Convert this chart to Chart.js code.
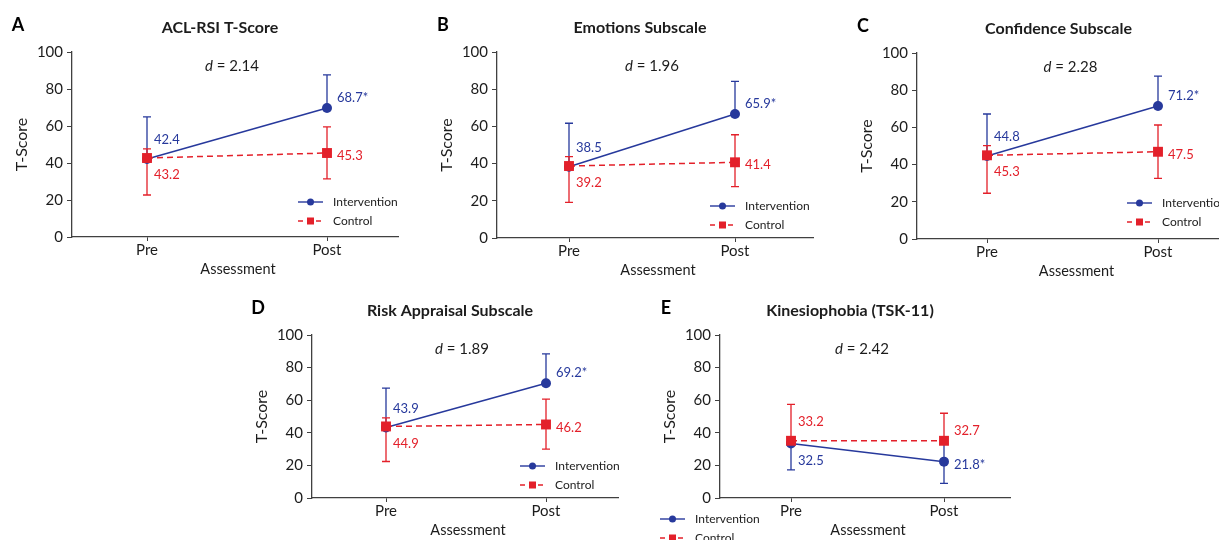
<!DOCTYPE html>
<html>
<head>
<meta charset="utf-8">
<script src="https://cdn.jsdelivr.net/npm/chart.js@4.4.1/dist/chart.umd.min.js"></script>
<style>
  html, body { margin: 0; padding: 0; background: #fff; }
  body { width: 1219px; height: 540px; position: relative; overflow: hidden; }
  canvas { position: absolute; }
</style>
</head>
<body>
<script>
// ==================== DATOS ====================
const fases = ['Pre', 'Post'];

const letras  = ['A', 'B', 'C', 'D', 'E'];
const titulos = ['ACL-RSI T-Score', 'Emotions Subscale', 'Confidence Subscale',
                 'Risk Appraisal Subscale', 'Kinesiophobia (TSK-11)'];
const efectoD = ['2.14', '1.96', '2.28', '1.89', '2.42'];

// medias (posición visual de los marcadores)
const intervencion = [[42.2, 69.7], [38.3, 66.7], [44.6, 71.5], [43.2, 70.4], [33.5, 22.3]];
const control      = [[42.7, 45.4], [38.7, 40.7], [45.0, 46.9], [43.9, 45.1], [35.1, 35.1]];

// extremos de las barras de error
const intErrBajo  = [[42.2, 69.7], [38.3, 66.7], [44.6, 71.5], [43.2, 70.4], [17.2, 9.0]];
const intErrAlto  = [[64.9, 87.6], [61.7, 84.2], [67.2, 87.6], [67.4, 88.4], [33.5, 35.1]];
const ctrlErrBajo = [[22.7, 31.4], [19.2, 27.6], [24.6, 32.6], [22.4, 30.0], [35.1, 35.1]];
const ctrlErrAlto = [[47.6, 59.5], [43.7, 55.5], [50.2, 61.3], [49.2, 60.6], [57.5, 52.0]];

// etiquetas de valor tal como aparecen
const intEtiquetas  = [['42.4', '68.7*'], ['38.5', '65.9*'], ['44.8', '71.2*'], ['43.9', '69.2*'], ['32.5', '21.8*']];
const ctrlEtiquetas = [['43.2', '45.3'], ['39.2', '41.4'], ['45.3', '47.5'], ['44.9', '46.2'], ['33.2', '32.7']];

const yTicks = [0, 20, 40, 60, 80, 100];

// ==================== LAYOUT (px de página) ====================
// l/r/t/b = área del gráfico, p0/p1 = posición de Pre/Post desde la izquierda
const paneles = [
  { l: 72,  r: 398,  t: 52,  b: 237, p0: 75, p1: 255, leg: { from: 'right', dx: -100, dy: -35 } },
  { l: 497, r: 813,  t: 52,  b: 238, p0: 72, p1: 238, leg: { from: 'right', dx: -103, dy: -32 } },
  { l: 917, r: 1230, t: 53,  b: 239, p0: 70, p1: 241, leg: { from: 'right', dx: -103, dy: -36 } },
  { l: 312, r: 618,  t: 335, b: 498, p0: 74, p1: 234, leg: { from: 'right', dx: -98,  dy: -32 } },
  { l: 720, r: 1010, t: 335, b: 498, p0: 71, p1: 224, leg: { from: 'left',  dx: -60,  dy: 21 } }
];

const AZUL = '#27399c';
const ROJO = '#e3202a';
const TEXTO = '#1c1c1c';
const EJE = '#404040';
const FUENTE = 'Lato, "Open Sans", sans-serif';

const PAD_IZQ = 75, PAD_SUP = 52, PAD_DER = 20, PAD_INF = 50;
const Y_W = 40, X_H = 20;

// ==================== PLUGINS ====================
const barrasError = {
  id: 'barrasError',
  beforeDatasetsDraw(chart) {
    const { ctx, scales: { x, y } } = chart;
    const k = chart.options.panelIndex;
    const series = [
      { bajo: intErrBajo[k], alto: intErrAlto[k], medias: intervencion[k], color: AZUL },
      { bajo: ctrlErrBajo[k], alto: ctrlErrAlto[k], medias: control[k], color: ROJO }
    ];
    ctx.save();
    ctx.lineWidth = 1.3;
    series.forEach(s => {
      ctx.strokeStyle = s.color;
      s.bajo.forEach((lo, i) => {
        const hi = s.alto[i];
        const px = x.getPixelForValue(i);
        const yLo = y.getPixelForValue(lo);
        const yHi = y.getPixelForValue(hi);
        ctx.beginPath();
        ctx.moveTo(px, yLo); ctx.lineTo(px, yHi);
        if (Math.abs(hi - s.medias[i]) > 0.5) { ctx.moveTo(px - 4, yHi); ctx.lineTo(px + 4, yHi); }
        if (Math.abs(lo - s.medias[i]) > 0.5) { ctx.moveTo(px - 4, yLo); ctx.lineTo(px + 4, yLo); }
        ctx.stroke();
      });
    });
    ctx.restore();
  }
};

const decoracion = {
  id: 'decoracion',
  afterDatasetsDraw(chart) {
    const { ctx, chartArea: a, scales: { x, y } } = chart;
    const k = chart.options.panelIndex;
    const p = paneles[k];
    const cx = (a.left + a.right) / 2;

    ctx.save();
    ctx.textBaseline = 'middle';

    // letra del panel
    ctx.fillStyle = '#000';
    ctx.font = 'bold 18px ' + FUENTE;
    ctx.textAlign = 'center';
    ctx.fillText(letras[k], a.left - 54, a.top - 27);

    // título
    ctx.fillStyle = TEXTO;
    ctx.font = 'bold 16px ' + FUENTE;
    ctx.fillText(titulos[k], cx - 15, a.top - 24);

    // d de Cohen
    const resto = ' = ' + efectoD[k];
    ctx.font = '15px ' + FUENTE;
    const wResto = ctx.measureText(resto).width;
    ctx.font = 'italic 15px ' + FUENTE;
    const wD = ctx.measureText('d').width;
    const x0 = cx - 3 - (wD + wResto) / 2;
    ctx.textAlign = 'left';
    ctx.fillText('d', x0, a.top + 14);
    ctx.font = '15px ' + FUENTE;
    ctx.fillText(resto, x0 + wD, a.top + 14);

    // títulos de ejes
    ctx.textAlign = 'center';
    ctx.font = '14.5px ' + FUENTE;
    ctx.fillText('Assessment', cx + 3, a.bottom + 32);
    ctx.save();
    ctx.translate(a.left - 50, (a.top + a.bottom) / 2);
    ctx.rotate(-Math.PI / 2);
    ctx.font = '16px ' + FUENTE;
    ctx.fillText('T-Score', 0, 0);
    ctx.restore();

    // etiquetas de valor: la serie que queda más alta lleva sus etiquetas arriba
    const sumaInt = intervencion[k].reduce((s, v) => s + v, 0);
    const sumaCtrl = control[k].reduce((s, v) => s + v, 0);
    const intArriba = sumaInt >= sumaCtrl;
    ctx.font = '13px ' + FUENTE;
    ctx.textAlign = 'left';
    fases.forEach((f, i) => {
      const px = x.getPixelForValue(i);
      const yi = y.getPixelForValue(intervencion[k][i]);
      const yc = y.getPixelForValue(control[k][i]);
      const dx = i === 0 ? 7 : 10;
      const dArr = i === 0 ? -19 : -10;
      const dAb = i === 0 ? 17 : 3;
      ctx.fillStyle = AZUL;
      ctx.fillText(intEtiquetas[k][i], px + dx, yi + (intArriba ? dArr : dAb));
      ctx.fillStyle = ROJO;
      ctx.fillText(ctrlEtiquetas[k][i], px + dx, yc + (intArriba ? dAb : dArr));
    });

    // leyenda
    const lx = (p.leg.from === 'right' ? a.right : a.left) + p.leg.dx;
    const ly = a.bottom + p.leg.dy;
    const filas = [
      { txt: 'Intervention', color: AZUL, dash: [], marca: 'circle' },
      { txt: 'Control', color: ROJO, dash: [5, 4], marca: 'rect' }
    ];
    ctx.font = '12px ' + FUENTE;
    filas.forEach((fl, j) => {
      const yy = ly + j * 19;
      ctx.strokeStyle = fl.color;
      ctx.lineWidth = 1.4;
      ctx.setLineDash(fl.dash);
      ctx.beginPath();
      ctx.moveTo(lx, yy); ctx.lineTo(lx + 25, yy);
      ctx.stroke();
      ctx.setLineDash([]);
      ctx.fillStyle = fl.color;
      if (fl.marca === 'circle') {
        ctx.beginPath(); ctx.arc(lx + 12.5, yy, 3.5, 0, Math.PI * 2); ctx.fill();
      } else {
        ctx.fillRect(lx + 9, yy - 3.5, 7, 7);
      }
      ctx.fillStyle = TEXTO;
      ctx.fillText(fl.txt, lx + 35, yy);
    });

    ctx.restore();
  }
};

// ==================== RENDER ====================
function renderPanel(k) {
  const p = paneles[k];
  const ancho = (p.r - p.l) + PAD_IZQ + PAD_DER;
  const alto = (p.b - p.t) + PAD_SUP + PAD_INF;
  const canvas = document.createElement('canvas');
  canvas.width = ancho;
  canvas.height = alto;
  canvas.style.left = (p.l - PAD_IZQ) + 'px';
  canvas.style.top = (p.t - PAD_SUP) + 'px';
  canvas.style.width = ancho + 'px';
  canvas.style.height = alto + 'px';
  document.body.appendChild(canvas);

  const unidad = p.p1 - p.p0;
  const xMin = -p.p0 / unidad;
  const xMax = ((p.r - p.l) - p.p0) / unidad;

  new Chart(canvas, {
    type: 'line',
    data: {
      datasets: [
        {
          label: 'Intervention',
          data: intervencion[k].map((v, i) => ({ x: i, y: v })),
          borderColor: AZUL,
          backgroundColor: AZUL,
          borderWidth: 1.5,
          pointStyle: 'circle',
          pointRadius: 5,
          pointBorderWidth: 0,
          order: 1
        },
        {
          label: 'Control',
          data: control[k].map((v, i) => ({ x: i, y: v })),
          borderColor: ROJO,
          backgroundColor: ROJO,
          borderWidth: 1.5,
          borderDash: [6, 4],
          pointStyle: 'rect',
          pointRadius: 7,
          pointBorderWidth: 0,
          order: 0
        }
      ]
    },
    options: {
      panelIndex: k,
      responsive: false,
      animation: false,
      events: [],
      layout: { padding: { left: PAD_IZQ - Y_W, top: PAD_SUP, right: PAD_DER, bottom: PAD_INF - X_H } },
      plugins: { legend: { display: false }, tooltip: { enabled: false }, title: { display: false } },
      scales: {
        x: {
          type: 'linear',
          min: xMin,
          max: xMax,
          afterBuildTicks: s => { s.ticks = fases.map((f, i) => ({ value: i })); },
          afterFit: s => { s.height = X_H; },
          ticks: {
            callback: v => fases[v],
            color: TEXTO,
            font: { family: FUENTE, size: 15 },
            padding: 0,
            maxRotation: 0
          },
          grid: { display: true, drawOnChartArea: false, tickLength: 4, color: EJE, lineWidth: 1 },
          border: { color: EJE, width: 1.3 }
        },
        y: {
          min: 0,
          max: 100,
          afterBuildTicks: s => { s.ticks = yTicks.map(v => ({ value: v })); },
          afterFit: s => { s.width = Y_W; },
          ticks: {
            color: TEXTO,
            font: { family: FUENTE, size: 15 },
            padding: 4
          },
          grid: { display: true, drawOnChartArea: false, tickLength: 5, color: EJE, lineWidth: 1 },
          border: { color: EJE, width: 1.3 }
        }
      }
    },
    plugins: [barrasError, decoracion]
  });
}

paneles.forEach((p, k) => renderPanel(k));
</script>
</body>
</html>
